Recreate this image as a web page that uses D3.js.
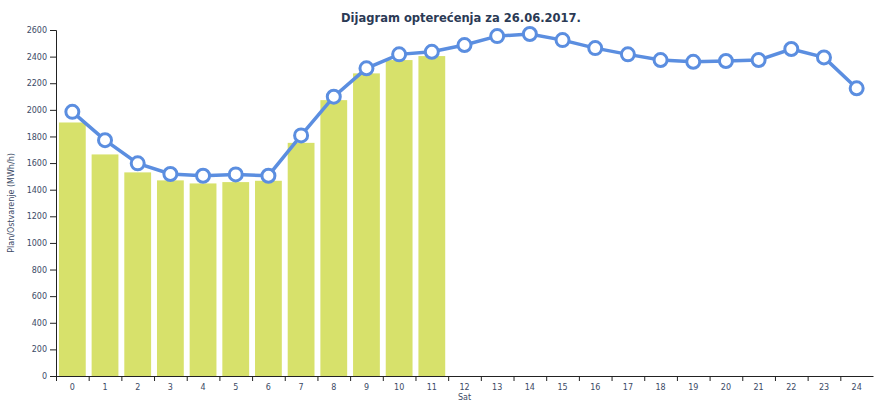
<!DOCTYPE html>
<html>
<head>
<meta charset="utf-8">
<script src="https://cdn.jsdelivr.net/npm/d3@7"></script>
<style>
  body { margin: 0; background: #fff; }
  .axis text { font-family: "DejaVu Sans", Verdana, sans-serif; font-size: 8px; fill: #3b4a66; }
  .axis path, .axis line { stroke: #222; }
</style>
</head>
<body>
<div id="chart"></div>
<script>
// hours on the x axis
var hours = d3.range(0, 25).map(String);

// realised load (bars), only first 12 hours available
var ostvarenje = [1905, 1665, 1530, 1470, 1447, 1457, 1467, 1752, 2073, 2274, 2374, 2404];

// planned load (line)
var plan = [1985, 1772, 1598, 1518, 1505, 1515, 1505, 1808, 2099, 2312, 2417, 2436,
            2487, 2554, 2570, 2524, 2464, 2417, 2374, 2361, 2367, 2374, 2457, 2394, 2162];

var yTicks = d3.range(0, 2601, 200);

var width = 875, height = 403;
var margin = {top: 30, right: 2, bottom: 27, left: 56};

var svg = d3.select("#chart").append("svg")
    .attr("width", width)
    .attr("height", height);

var x = d3.scaleBand()
    .domain(hours)
    .range([margin.left, width - margin.right])
    .paddingInner(0)
    .paddingOuter(0);

var y = d3.scaleLinear()
    .domain([0, 2600])
    .range([height - margin.bottom, margin.top]);

// bars sit inside each band with a small gap
var barPad = 0.09;

svg.selectAll("rect.bar")
    .data(ostvarenje)
    .enter().append("rect")
    .attr("class", "bar")
    .attr("x", function(d, i){ return x(hours[i]) + x.bandwidth() * barPad; })
    .attr("width", x.bandwidth() * (1 - 2 * barPad))
    .attr("y", function(d){ return y(d); })
    .attr("height", function(d){ return y(0) - y(d); })
    .attr("fill", "#d7e16b");

// axes
var xAxis = svg.append("g")
    .attr("class", "axis")
    .attr("transform", "translate(0," + y(0) + ")")
    .call(d3.axisBottom(x).tickSize(0).tickPadding(8));

// tick marks at band boundaries
xAxis.selectAll("line.sep")
    .data(hours)
    .enter().append("line")
    .attr("class", "sep")
    .attr("x1", function(d){ return x(d) + 0.5; })
    .attr("x2", function(d){ return x(d) + 0.5; })
    .attr("y1", 0)
    .attr("y2", 5);

svg.append("g")
    .attr("class", "axis")
    .attr("transform", "translate(" + margin.left + ",0)")
    .call(d3.axisLeft(y).tickValues(yTicks).tickFormat(d3.format("d"))
        .tickSize(6).tickSizeOuter(6).tickPadding(3));

// plan line
var cx = function(i){ return x(hours[i]) + x.bandwidth() / 2; };

svg.append("path")
    .datum(plan)
    .attr("fill", "none")
    .attr("stroke", "#5b8ee0")
    .attr("stroke-width", 3.5)
    .attr("d", d3.line()
        .x(function(d, i){ return cx(i); })
        .y(function(d){ return y(d); }));

svg.selectAll("circle.pt")
    .data(plan)
    .enter().append("circle")
    .attr("class", "pt")
    .attr("cx", function(d, i){ return cx(i); })
    .attr("cy", function(d){ return y(d); })
    .attr("r", 6.5)
    .attr("fill", "#fff")
    .attr("stroke", "#5b8ee0")
    .attr("stroke-width", 3);

// title and axis labels
svg.append("text")
    .attr("x", 461)
    .attr("y", 22)
    .attr("text-anchor", "middle")
    .style("font-family", "'DejaVu Sans', Verdana, sans-serif")
    .style("font-weight", "bold")
    .style("font-size", "11.5px")
    .style("fill", "#2b3a55")
    .text("Dijagram opterećenja za 26.06.2017.");

svg.append("text")
    .attr("x", (margin.left + width - margin.right) / 2)
    .attr("y", 400)
    .attr("text-anchor", "middle")
    .style("font-family", "'DejaVu Sans', Verdana, sans-serif")
    .style("font-size", "8px")
    .style("fill", "#3b4a66")
    .text("Sat");

svg.append("text")
    .attr("transform", "translate(14," + (margin.top + height - margin.bottom) / 2 + ") rotate(-90)")
    .attr("text-anchor", "middle")
    .style("font-family", "'DejaVu Sans', Verdana, sans-serif")
    .style("font-size", "8px")
    .style("fill", "#3b4a66")
    .text("Plan/Ostvarenje (MWh/h)");
</script>
</body>
</html>
